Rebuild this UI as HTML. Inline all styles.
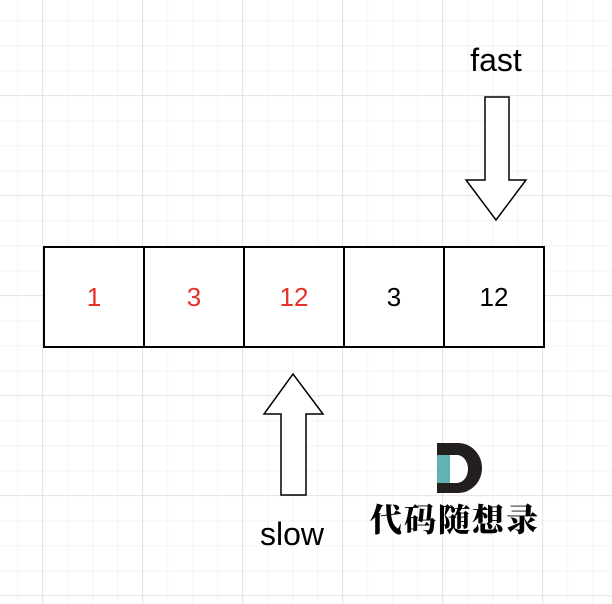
<!DOCTYPE html>
<html><head><meta charset="utf-8"><style>
html,body{margin:0;padding:0;background:#fff}
body{width:612px;height:604px;overflow:hidden;position:relative}
.t{position:absolute;font-family:"Liberation Sans",sans-serif;font-size:26px;text-align:center}
</style></head><body>
<svg width="612" height="604" style="position:absolute;left:0;top:0">
<defs>
<pattern id="mn" x="17.5" y="20.5" width="25" height="25" patternUnits="userSpaceOnUse">
<path d="M0 0V25M0 0H25" stroke="#f0f0f0" stroke-width="1.5" fill="none"/></pattern>
<pattern id="mj" x="42.5" y="95.5" width="100" height="100" patternUnits="userSpaceOnUse">
<path d="M0 0V100M0 0H100" stroke="#cfcfcf" stroke-width="1" fill="none"/></pattern>
</defs>
<rect width="612" height="604" fill="url(#mn)"/>
<rect width="612" height="604" fill="url(#mj)"/>
<rect x="44" y="247" width="500" height="100" fill="#fff" stroke="#000" stroke-width="2"/>
<path d="M144 247V347M244 247V347M344 247V347M444 247V347" stroke="#000" stroke-width="2"/>
<path d="M485 97H509V180H526L496 220L466 180H485Z" fill="#fff" stroke="#000" stroke-width="1.5"/>
<path d="M281 495H306V414H323L293 374L264 414H281Z" fill="#fff" stroke="#000" stroke-width="1.5"/>
<path d="M437 443H458A24 25 0 0 1 458 493H437Z" fill="#231f1f"/>
<path d="M450 455H457A11 14 0 0 1 457 483H450Z" fill="#fff"/>
<rect x="437" y="455" width="13" height="28" fill="#5fb3b3"/>
</svg>
<div class="t" style="left:44px;top:282px;width:100px;color:#e8302a">1</div>
<div class="t" style="left:144px;top:282px;width:100px;color:#e8302a">3</div>
<div class="t" style="left:244px;top:282px;width:100px;color:#e8302a">12</div>
<div class="t" style="left:344px;top:282px;width:100px">3</div>
<div class="t" style="left:444px;top:282px;width:100px">12</div>
<div class="t" style="left:446px;top:42px;width:100px;font-size:32px">fast</div>
<div class="t" style="left:242px;top:516px;width:100px;font-size:32px">slow</div>
<div style="position:absolute;left:370px;top:498px;width:180px;font-family:'Noto Serif CJK SC',serif;font-weight:900;font-size:32px;letter-spacing:2px;line-height:40px">代码随想录</div>
</body></html>
